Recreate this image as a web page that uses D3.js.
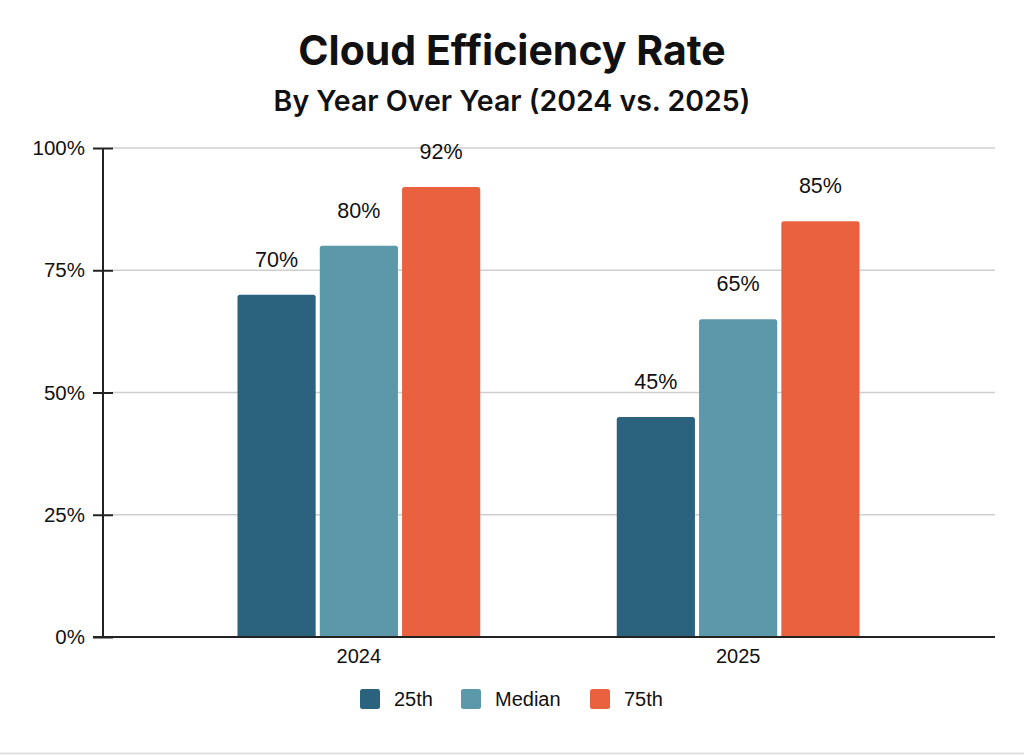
<!DOCTYPE html>
<html lang="en">
<head>
    <meta charset="UTF-8">
    <title>Cloud Efficiency Rate</title>
    <script src="https://d3js.org/d3.v7.min.js"></script>
    <style>
        body {
            margin: 0;
            padding: 0;
            background: #fff;
        }
        svg text {
            font-family: "Liberation Sans", Arial, sans-serif;
            fill: #111;
        }
        .title {
            font-family: Inter, "Open Sans", sans-serif !important;
            font-weight: 700;
        }
    </style>
</head>
<body>
    <svg id="chart" width="1024" height="755"></svg>

    <script>
        // Data
        const years = ["2024", "2025"];
        const series = ["25th", "Median", "75th"];
        const values25 = [70, 45];
        const valuesMedian = [80, 65];
        const values75 = [92, 85];
        const yTicks = [0, 25, 50, 75, 100];

        const colors = ["#2b637e", "#5b98aa", "#e9613f"];

        const rows = years.map((y, i) => ({
            year: y,
            vals: [values25[i], valuesMedian[i], values75[i]]
        }));

        const svg = d3.select("#chart");

        // plot area
        const plotLeft = 103, plotRight = 995, plotTop = 148, plotBottom = 637;

        const y = d3.scaleLinear().domain([0, 100]).range([plotBottom, plotTop]);

        const x0 = d3.scaleBand()
            .domain(years)
            .range([237.5, 859.5])
            .paddingInner(0.36)
            .paddingOuter(0);

        const x1 = d3.scaleBand()
            .domain(series)
            .range([0, x0.bandwidth()])
            .paddingInner(0.05);

        // Titles
        svg.append("text")
            .attr("class", "title")
            .attr("x", 512).attr("y", 65)
            .attr("text-anchor", "middle")
            .style("font-size", "41px")
            .text("Cloud Efficiency Rate");

        svg.append("text")
            .attr("class", "title")
            .attr("x", 512).attr("y", 111)
            .attr("text-anchor", "middle")
            .style("font-size", "28.5px")
            .style("font-weight", 600)
            .text("By Year Over Year (2024 vs. 2025)");

        // Gridlines
        svg.append("g")
            .selectAll("line")
            .data(yTicks.filter(d => d > 0))
            .join("line")
            .attr("x1", plotLeft + 10).attr("x2", plotRight)
            .attr("y1", d => y(d)).attr("y2", d => y(d))
            .attr("stroke", "#cfcfcf")
            .attr("stroke-width", 1.5);

        // Bars
        const groups = svg.append("g")
            .selectAll("g")
            .data(rows)
            .join("g")
            .attr("transform", d => `translate(${x0(d.year)},0)`);

        groups.selectAll("path")
            .data(d => d.vals.map((v, i) => ({ key: series[i], v: v, c: colors[i] })))
            .join("path")
            .attr("fill", d => d.c)
            .attr("d", d => {
                const bx = x1(d.key), bw = x1.bandwidth();
                const by = y(d.v), r = 2.5;
                return `M${bx},${plotBottom}V${by + r}Q${bx},${by} ${bx + r},${by}` +
                    `H${bx + bw - r}Q${bx + bw},${by} ${bx + bw},${by + r}V${plotBottom}Z`;
            });

        groups.selectAll("text")
            .data(d => d.vals.map((v, i) => ({ key: series[i], v: v })))
            .join("text")
            .attr("x", d => x1(d.key) + x1.bandwidth() / 2)
            .attr("y", d => y(d.v) - 28)
            .attr("text-anchor", "middle")
            .style("font-size", "21.5px")
            .text(d => d.v + "%");

        // Y axis
        const yAxis = svg.append("g")
            .attr("transform", `translate(${plotLeft},0)`)
            .call(d3.axisLeft(y).tickValues(yTicks).tickSize(10).tickPadding(8)
                .tickFormat(d => d + "%"));
        yAxis.select(".domain").remove();
        yAxis.selectAll(".tick line")
            .attr("x2", 10).attr("x1", -10)
            .attr("stroke", "#222").attr("stroke-width", 2);
        yAxis.selectAll(".tick text")
            .attr("x", -18)
            .style("font-size", "20.5px")
            .style("font-family", "'Liberation Sans', Arial, sans-serif")
            .attr("fill", "#111");
        yAxis.append("line")
            .attr("y1", plotTop).attr("y2", plotBottom)
            .attr("stroke", "#222").attr("stroke-width", 2);

        // X axis
        const xAxis = svg.append("g")
            .attr("transform", `translate(0,${plotBottom})`)
            .call(d3.axisBottom(x0).tickSize(0).tickPadding(12));
        xAxis.select(".domain").remove();
        xAxis.selectAll(".tick text")
            .style("font-size", "20px")
            .style("font-family", "'Liberation Sans', Arial, sans-serif")
            .attr("fill", "#111");
        xAxis.append("line")
            .attr("x1", plotLeft - 10).attr("x2", plotRight)
            .attr("stroke", "#222").attr("stroke-width", 2);

        // Legend
        const legendX = [360, 461, 590];
        const legend = svg.append("g");
        series.forEach((s, i) => {
            const g = legend.append("g").attr("transform", `translate(${legendX[i]},689)`);
            g.append("rect")
                .attr("width", 20).attr("height", 20)
                .attr("rx", 2.5)
                .attr("fill", colors[i]);
            g.append("text")
                .attr("x", 34).attr("y", 17)
                .style("font-size", "20px")
                .text(s);
        });

        // bottom frame line
        svg.append("line")
            .attr("x1", 0).attr("x2", 1024)
            .attr("y1", 753.5).attr("y2", 753.5)
            .attr("stroke", "#e2e2e2").attr("stroke-width", 2);
    </script>
</body>
</html>
